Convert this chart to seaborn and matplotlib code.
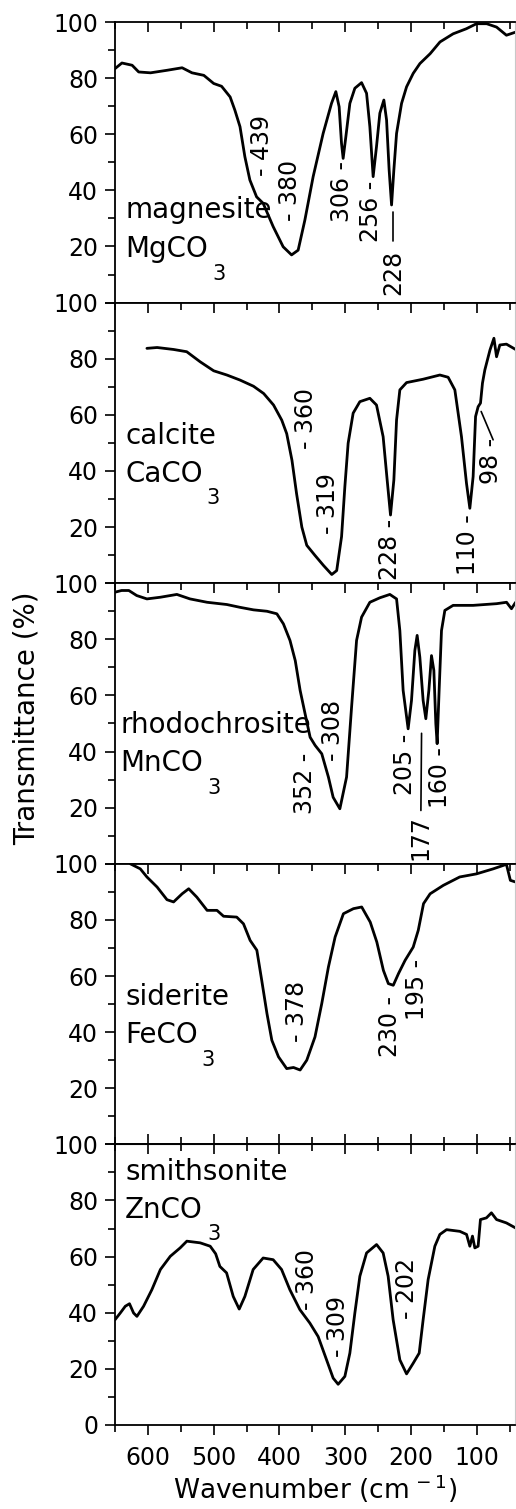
import matplotlib
matplotlib.use("Agg")
import matplotlib.pyplot as plt
import numpy as np
import pandas as pd
import seaborn as sns

# ---- spectra (wavenumber cm-1, transmittance %) ----
mg_x = [650, 639.5, 624, 614, 596, 571, 548, 533, 515, 500, 488, 475, 467.8, 460, 452.6, 445,
        434.8, 424.8, 409.6, 394.4, 381.6, 371.6, 361.4, 348.8, 333.6, 320.9, 314.3, 309.3, 305.7,
        303.2, 299.1, 293, 285.4, 275.2, 267.6, 262.6, 257.6, 252.5, 247.4, 241.3, 237.2, 233.3,
        229.6, 226.1, 222, 214.4, 206.8, 196.7, 186.5, 171, 156, 136, 116, 100.5, 85, 70, 55, 41]
mg_y = [83.4, 85.4, 84.6, 82.2, 81.9, 82.8, 83.7, 81.9, 81.0, 78.1, 77.1, 73.3, 68.6, 62.7, 52,
        43.7, 37.7, 35.4, 27.1, 19.9, 17.0, 18.7, 29.4, 44.9, 60.3, 71, 75.2, 69.8, 56.8, 51.4, 59.1,
        71, 76.4, 78.4, 74.6, 62.7, 44.9, 55.6, 67.5, 72.2, 65.1, 47.3, 34.8, 47.3, 60.3, 71, 76.9,
        81.7, 85.2, 88.7, 92.9, 95.8, 97.6, 99.4, 99.4, 98.2, 95.3, 96.4]

ca_x = [601.5, 586, 561, 541, 520.5, 500, 480, 460, 439.5, 424, 409, 396.5, 389, 381, 374, 366,
        358.5, 346, 333, 320.5, 313, 305.6, 300.6, 295.6, 288, 277.8, 262.6, 252.5, 242.4, 236.3,
        231.2, 226.1, 222, 217, 206.8, 181.6, 156.2, 143.6, 133.4, 123.3, 115.7, 110.6, 105.6, 101.9,
        98, 94.4, 91.4, 87.8, 80, 74, 70, 65, 55, 41]
ca_y = [83.7, 84, 83.3, 82.5, 78.9, 75.7, 74.2, 72.4, 70.2, 67.6, 63.5, 58.1, 53.3, 43.8, 31.9, 20,
        13.5, 9.9, 6.3, 3.1, 4.5, 16.6, 34.4, 49.9, 60.6, 64.7, 65.9, 63.5, 52.2, 36.8, 24.3, 36.8,
        58.2, 68.9, 71.5, 72.7, 74.2, 73.4, 68.9, 52.2, 35.6, 26.7, 38, 59.4, 62.9, 64.2, 71.3, 76,
        83.1, 87.3, 80.7, 84.9, 85.2, 83.3]

mn_x = [650, 640, 629, 617, 601.5, 581, 556, 536, 510, 480, 460, 439.5, 419, 404, 394, 384, 376,
        368.6, 361, 353.4, 345.8, 335.7, 325.6, 318.4, 308.2, 298, 290.4, 282.8, 275.2, 262.6, 247.4,
        232.2, 222, 217, 212, 204.4, 199.3, 194.2, 190.7, 186.6, 181.6, 177.5, 172.9, 168.9, 165.3,
        162.3, 160.3, 157.3, 153.7, 148.6, 136, 105.6, 70, 54.8, 47.3, 41]
mn_y = [96.8, 97.4, 97.4, 95.6, 94.4, 95, 96, 94.4, 93.2, 92.4, 91.4, 90.5, 90, 89.1, 85.5, 79.6,
        72.4, 61.8, 53.4, 45.1, 42.2, 39.2, 30.9, 23.7, 19.6, 30.9, 55.8, 79.6, 87.9, 93.2, 94.8, 96,
        94.4, 83.1, 61.8, 48.1, 58.2, 76, 81.4, 73.6, 58.2, 51.7, 61.8, 74.2, 68.9, 49.9, 42.8, 61.8,
        83.1, 90.3, 92.1, 92.1, 92.7, 93.2, 90.9, 93.2]

fe_x = [626.8, 611.6, 601.5, 586, 571, 561, 548, 538, 525.6, 510, 495, 485, 465, 454.7, 444.6,
        434.4, 427, 419, 411.6, 401.5, 389, 378.7, 368.6, 358.5, 346, 335.7, 325.6, 315.4, 302.8,
        287.6, 275, 262, 252, 242, 234.5, 227, 219, 209, 196.7, 189, 181, 171, 151, 126, 100.6, 75,
        55, 49, 41]
fe_y = [100, 98.2, 95.3, 91.7, 87.2, 86.4, 89.3, 91.1, 88.1, 83.4, 83.4, 81.3, 81, 78.6, 72.7, 69.2,
        58.5, 46.6, 37.1, 31.2, 27, 27.4, 26.5, 30, 38.3, 50.2, 63.2, 73.9, 82.2, 84, 84.6, 79.2, 72.1,
        62, 57.3, 56.7, 60.9, 65.6, 70.3, 76.3, 85.8, 89.3, 92.3, 95.3, 96.4, 98.2, 99.8, 94.1, 93.5]

zn_x = [650, 642, 634.4, 628, 621.8, 616.7, 606.6, 594, 581, 566, 551, 540.8, 520.5, 505.3, 497,
        490.6, 480.4, 470.3, 461.2, 452.6, 440, 424.8, 409.6, 396.8, 384.2, 369, 353.8, 341.2, 328.4,
        318.4, 310.8, 300.6, 293, 285.4, 277.8, 267.6, 252.4, 242.4, 234.8, 227.2, 217, 206.8, 196.7,
        187.6, 181.6, 174, 163.8, 156.2, 146, 125.8, 115.6, 110.6, 106.6, 103, 98, 94.5, 85.4, 77.8,
        70, 55, 41]
zn_y = [37.5, 39.9, 42.3, 43.2, 39.9, 38.7, 42.3, 48.2, 55.4, 60.1, 63.1, 65.5, 64.9, 63.7, 61,
        56.5, 54.2, 45.8, 41.3, 45.8, 55.4, 59.5, 58.9, 55.4, 48.2, 41.1, 36.3, 31.5, 23.2, 16.7, 14.5,
        17.3, 25.6, 39.9, 53, 61.3, 64.3, 61.3, 53, 37.5, 23.2, 18.2, 22, 25.6, 37.5, 51.8, 63.7, 67.9,
        69.6, 69, 67.9, 63.7, 67.3, 63.1, 63.7, 73.2, 73.8, 75.6, 73.2, 72, 70.2]

names = ["magnesite", "calcite", "rhodochrosite", "siderite", "smithsonite"]
formulas = ["MgCO", "CaCO", "MnCO", "FeCO", "ZnCO"]
spectra = [(mg_x, mg_y), (ca_x, ca_y), (mn_x, mn_y), (fe_x, fe_y), (zn_x, zn_y)]

# peak labels: (text, x, y) and leader lines (x0, y0, x1, y1)
peak_labels = [
    [("- 439", 427, 56), ("- 380", 384, 40), ("306 -", 305, 39.5), ("256 -", 261, 32.4), ("228", 227, 10.8)],
    [("- 360", 359.5, 58.7), ("- 319", 325.6, 28.3), ("228 -", 232, 11.9), ("110 -", 113, 13.7), ("98 -", 78, 43.4)],
    [("352 -", 361, 28.7), ("- 308", 318, 47.7), ("205 -", 209, 35.6), ("177", 185, 9.3), ("160 -", 156, 30.9)],
    [("- 378", 373.7, 47.2), ("230 -", 232, 41.9), ("195 -", 191.4, 55.2)],
    [("- 360", 358.5, 52), ("- 309", 310.4, 35.1), ("- 202", 206.6, 48.5)],
]
leaders = [
    [(227, 32.4, 227, 22.0)],
    [(93.4, 61.2, 75.2, 51.1)],
    [(184, 46.5, 185, 19.0)],
    [],
    [],
]
name_pos = [(0.025, 0.30, 0.163), (0.025, 0.496, 0.362), (0.014, 0.465, 0.33),
            (0.025, 0.495, 0.361), (0.025, 0.873, 0.739)]

sns.set_style("ticks")
plt.rcParams['font.family'] = ['DejaVu Sans']
plt.rcParams['font.size'] = 17
for key in ["text.color", "axes.labelcolor", "xtick.color", "ytick.color"]:
    plt.rcParams[key] = "black"

fig, axes = plt.subplots(5, 1, sharex=True, figsize=(5.16, 15.09), dpi=100)
fig.subplots_adjust(left=0.2229, right=0.998, top=0.9854, bottom=0.0557, hspace=0)

for i, ax in enumerate(axes):
    xs, ys = spectra[i]
    df = pd.DataFrame({"wn": xs, "T": ys})
    sns.lineplot(data=df, x="wn", y="T", ax=ax, color="black", lw=2.0,
                 estimator=None, sort=False)
    ax.set_xlim(650, 42)
    ax.set_ylim(0, 100)
    ax.set_xlabel("")
    ax.set_ylabel("")

    ax.set_yticks(np.arange(0, 101, 20))
    ax.set_yticks(np.arange(10, 100, 20), minor=True)
    ylabs = ["" if (v == 0 and i < 4) else str(v) for v in range(0, 101, 20)]
    ax.set_yticklabels(ylabs)
    ax.set_xticks(np.arange(100, 601, 100))
    ax.set_xticks(np.arange(50, 651, 50), minor=True)

    ax.tick_params(axis="y", which="major", direction="out", length=7, width=1.2, pad=5,
                   labelsize=17)
    ax.tick_params(axis="y", which="minor", direction="out", length=5, width=1.2, left=True)
    last = i == 4
    ax.tick_params(axis="x", which="both", top=True, bottom=last, labeltop=False,
                   labelbottom=last, width=1.2)
    ax.tick_params(axis="x", which="major", direction="in" if not last else "out", length=7,
                   pad=8, labelsize=17)
    ax.tick_params(axis="x", which="minor", direction="in" if not last else "out", length=5)
    if last:
        # top ticks pointing into the last panel as well
        sec = ax.secondary_xaxis("top")
        sec.set_xticks(np.arange(100, 601, 100))
        sec.set_xticks(np.arange(50, 651, 50), minor=True)
        sec.tick_params(axis="x", which="both", direction="in", labeltop=False, width=1.2)
        sec.tick_params(axis="x", which="major", length=7)
        sec.tick_params(axis="x", which="minor", length=5)

    for s in ["left", "top", "bottom"]:
        ax.spines[s].set_linewidth(1.3)
        ax.spines[s].set_color("black")
    ax.spines["right"].set_color("#c8c8c8")
    ax.spines["right"].set_linewidth(0.8)

    for txt, px, py in peak_labels[i]:
        ax.text(px, py, txt, rotation=90, ha="center", va="center", fontsize=17)
    for x0, y0, x1, y1 in leaders[i]:
        ax.plot([x0, x1], [y0, y1], color="black", lw=1.2)

    nx, ny1, ny2 = name_pos[i]
    ax.text(nx, ny1, names[i], transform=ax.transAxes, fontsize=20, va="baseline", ha="left")
    t = ax.text(nx, ny2, formulas[i], transform=ax.transAxes, fontsize=20, va="baseline", ha="left")
    ax.annotate("3", xy=(1, 0), xycoords=t, xytext=(3, -12), textcoords="offset points",
                fontsize=15, ha="left", va="baseline")

axes[-1].set_xlabel("Wavenumber (cm$^{\\,-1}$)", fontsize=19, labelpad=2)
fig.text(27 / 516, 1 - 718 / 1509, "Transmittance (%)", rotation=90, ha="center", va="center",
         fontsize=20)

fig.savefig("out.png", dpi=100)
